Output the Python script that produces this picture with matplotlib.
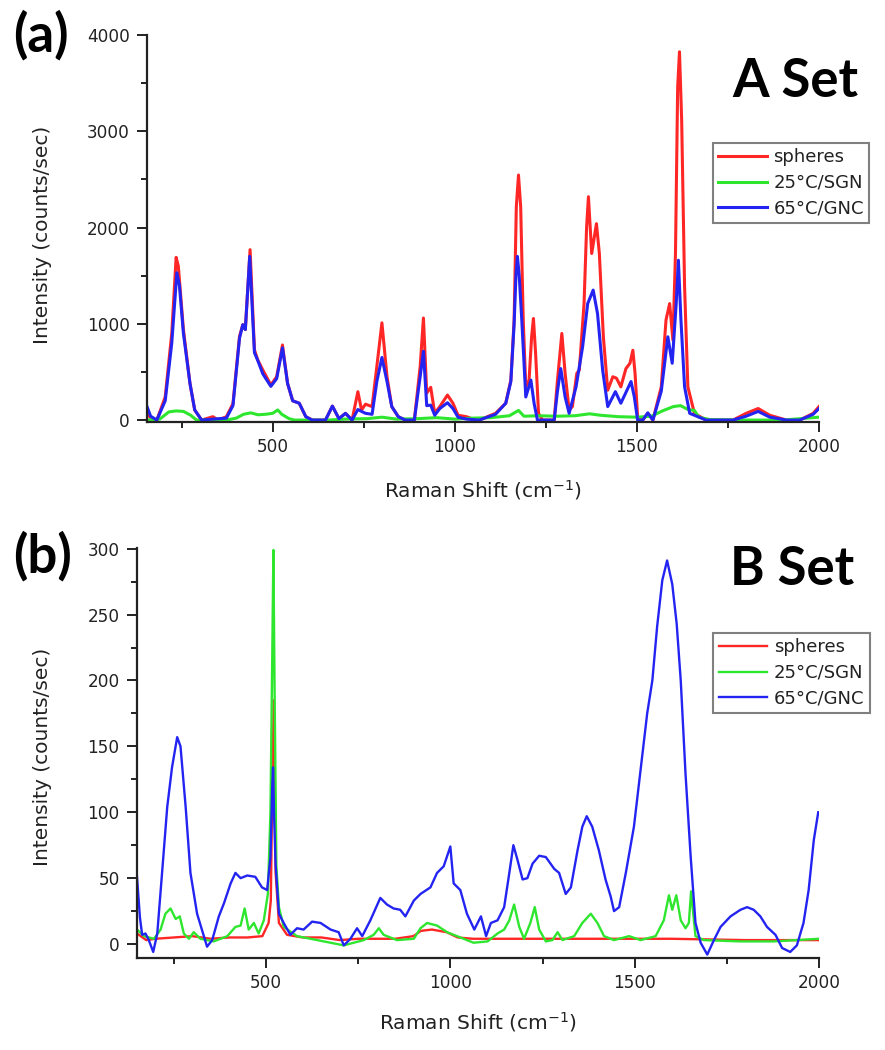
import matplotlib
matplotlib.use('Agg')
import matplotlib.pyplot as plt
import matplotlib.ticker as ticker

plt.rcParams['font.family'] = ['DejaVu Sans']
plt.rcParams['mathtext.fontset'] = 'dejavusans'

# ---- (a) A Set : Raman spectra ----
a_sph_x = [155, 170, 182, 205, 223, 235, 241, 255, 273, 286, 305, 336, 350, 373, 391, 409, 418, 425, 438, 450,
           459, 473, 495, 511, 527, 541, 555, 573, 591, 609, 645, 664, 682, 700, 718, 734, 744, 755, 773, 786,
           800, 814, 827, 845, 864, 889, 905, 914, 923, 934, 945, 959, 980, 995, 1009, 1032, 1054, 1067, 1112, 1140,
           1154, 1163, 1169, 1175, 1181, 1188, 1195, 1204, 1211, 1216, 1222, 1230, 1241, 1273, 1282, 1294, 1303, 1314, 1323, 1335,
           1342, 1355, 1362, 1367, 1376, 1389, 1397, 1408, 1420, 1434, 1444, 1456, 1470, 1481, 1489, 1495, 1502, 1516, 1530, 1544,
           1567, 1580, 1590, 1599, 1606, 1612, 1617, 1623, 1631, 1640, 1658, 1690, 1764, 1800, 1833, 1865, 1911, 1947, 1984, 2000]
a_sph_y = [60, 10, 0, 240, 900, 1690, 1600, 940, 380, 105, 0, 35, 0, 35, 170, 870, 990, 940, 1770, 730,
           625, 520, 365, 450, 780, 380, 200, 175, 35, 0, 0, 145, 15, 70, 0, 295, 105, 165, 140, 555,
           1010, 450, 140, 35, 0, 0, 555, 1060, 280, 340, 70, 140, 260, 175, 50, 35, 5, 0, 70, 175,
           415, 1040, 2215, 2545, 2215, 1040, 345, 415, 865, 1055, 690, 70, 0, 0, 415, 900, 485, 105, 140, 485,
           520, 1210, 2005, 2320, 1730, 2040, 1730, 865, 310, 450, 435, 345, 535, 590, 725, 485, 35, 0, 70, 0,
           345, 1040, 1210, 830, 1730, 3460, 3825, 3115, 1385, 345, 70, 0, 0, 70, 120, 50, 0, 0, 70, 140]

a_sgn_x = [155, 190, 215, 235, 255, 275, 291, 340, 380, 400, 420, 440, 460, 480, 500, 514, 525, 545, 560, 650,
           700, 760, 800, 840, 900, 950, 1000, 1050, 1100, 1150, 1175, 1190, 1230, 1280, 1330, 1370, 1400, 1450, 1500, 1540,
           1570, 1600, 1620, 1640, 1658, 1670, 1700, 1800, 1900, 2000]
a_sgn_y = [0, 10, 85, 95, 90, 50, 0, 0, 5, 20, 60, 75, 55, 60, 70, 105, 60, 15, 0, 0,
           10, 15, 30, 10, 15, 25, 10, 20, 25, 45, 100, 40, 45, 40, 45, 65, 50, 35, 30, 40,
           95, 140, 150, 110, 100, 30, 5, 0, 0, 30]

a_gnc_x = [155, 165, 182, 205, 223, 237, 244, 255, 273, 286, 305, 336, 373, 391, 409, 418, 425, 437, 450, 459,
           473, 495, 511, 527, 541, 555, 573, 591, 609, 645, 664, 682, 700, 718, 734, 744, 755, 773, 786, 800,
           814, 827, 845, 864, 889, 905, 914, 923, 934, 945, 959, 980, 995, 1009, 1032, 1067, 1112, 1140, 1154, 1163,
           1168, 1172, 1177, 1184, 1195, 1209, 1218, 1227, 1273, 1282, 1291, 1303, 1314, 1333, 1351, 1365, 1380, 1392, 1406, 1420,
           1441, 1456, 1484, 1493, 1502, 1516, 1530, 1544, 1567, 1585, 1597, 1608, 1614, 1621, 1631, 1645, 1690, 1764, 1800, 1833,
           1865, 1911, 1947, 1984, 2000]
a_gnc_y = [140, 40, 0, 200, 800, 1530, 1400, 900, 380, 105, 0, 10, 20, 150, 850, 990, 940, 1700, 700, 620,
           480, 350, 430, 750, 380, 200, 175, 35, 0, 0, 145, 15, 70, 0, 110, 90, 70, 60, 400, 650,
           400, 140, 35, 0, 0, 450, 715, 150, 155, 50, 120, 180, 120, 30, 10, 0, 60, 175, 400, 1000,
           1500, 1700, 1500, 1040, 240, 415, 170, 0, 0, 300, 535, 240, 70, 345, 760, 1210, 1350, 1105, 520, 140,
           295, 175, 400, 240, 0, 0, 75, 0, 300, 865, 590, 1210, 1660, 1040, 345, 70, 0, 0, 40, 90,
           30, 0, 0, 60, 120]

# ---- (b) B Set ----
b_sph_x = [150, 175, 200, 250, 300, 350, 400, 450, 490, 507, 513, 517, 521, 524, 526, 535, 557, 600, 650, 700,
           750, 800, 850, 900, 920, 950, 990, 1020, 1060, 1200, 1400, 1600, 1800, 2000]
b_sph_y = [8, 3, 4, 5, 6, 4, 5, 5, 6, 16, 33, 120, 185, 120, 54, 16, 7, 5, 5, 3,
           4, 4, 4, 6, 10, 11, 9, 5, 4, 4, 4, 4, 3, 3]

b_sgn_x = [150, 169, 196, 214, 227, 241, 255, 266, 277, 291, 304, 322, 358, 395, 417, 431, 442, 453, 467, 480,
           494, 505, 512, 517, 520, 523, 528, 535, 548, 584, 639, 711, 765, 792, 806, 819, 855, 901, 919, 937,
           964, 991, 1018, 1063, 1101, 1128, 1146, 1160, 1173, 1187, 1200, 1217, 1229, 1241, 1259, 1277, 1291, 1304, 1336, 1358,
           1381, 1399, 1417, 1444, 1485, 1516, 1557, 1579, 1593, 1602, 1613, 1625, 1638, 1647, 1653, 1665, 1688, 1787, 1877, 2000]
b_sgn_y = [11, 6, 4, 11, 23, 27, 19, 21, 8, 4, 9, 4, 2, 6, 13, 14, 27, 11, 16, 8,
           18, 38, 100, 220, 299, 200, 60, 28, 13, 6, 3, -1, 3, 7, 12, 7, 3, 4, 12, 16,
           14, 9, 6, 1, 2, 8, 11, 18, 30, 13, 4, 16, 28, 11, 2, 3, 9, 3, 6, 16,
           23, 16, 6, 3, 6, 3, 6, 18, 37, 26, 37, 18, 12, 16, 40, 6, 3, 2, 2, 4]

b_gnc_x = [150, 158, 164, 173, 182, 194, 205, 218, 232, 245, 259, 268, 282, 295, 313, 340, 354, 372, 386, 404,
           417, 431, 449, 471, 489, 503, 512, 517, 519, 522, 526, 535, 548, 566, 584, 602, 625, 648, 675, 697,
           711, 729, 747, 761, 783, 810, 828, 846, 864, 878, 901, 919, 946, 964, 982, 1000, 1009, 1027, 1045, 1065,
           1083, 1097, 1110, 1128, 1146, 1160, 1171, 1182, 1196, 1209, 1223, 1241, 1259, 1282, 1295, 1313, 1327, 1345, 1358, 1370,
           1385, 1403, 1421, 1435, 1444, 1458, 1476, 1498, 1516, 1534, 1548, 1561, 1575, 1588, 1602, 1614, 1625, 1638, 1652, 1665,
           1679, 1697, 1715, 1733, 1760, 1787, 1805, 1823, 1841, 1859, 1882, 1900, 1922, 1940, 1958, 1972, 1986, 1998]
b_gnc_y = [51, 20, 7, 8, 3, -6, 8, 54, 104, 134, 157, 150, 104, 54, 23, -2, 3, 21, 31, 46,
           54, 50, 52, 51, 43, 41, 66, 120, 134, 95, 60, 23, 16, 7, 12, 11, 17, 16, 11, 9,
           -1, 4, 12, 6, 18, 35, 30, 27, 26, 21, 33, 38, 43, 54, 59, 74, 46, 41, 23, 11,
           21, 6, 16, 18, 28, 54, 75, 64, 49, 50, 61, 67, 66, 57, 54, 38, 43, 71, 89, 97,
           89, 71, 49, 36, 25, 28, 54, 89, 132, 175, 200, 241, 276, 291, 273, 243, 200, 129, 66, 16,
           1, -8, 3, 13, 21, 26, 28, 26, 21, 13, 7, -3, -6, -1, 16, 41, 79, 100]

labels = ['spheres', '25°C/SGN', '65°C/GNC']
colors = ['#ff2626', '#2fe62f', '#2424f2']

fig = plt.figure(figsize=(8.85, 10.5), dpi=100)
ax_a = fig.add_axes([0.1661, 0.5981, 0.7593, 0.3686])
ax_b = fig.add_axes([0.1548, 0.0876, 0.7706, 0.3905])


def style_axes(ax, xlim, ylim, ymajor, yminor):
    ax.set_xlim(xlim)
    ax.set_ylim(ylim)
    ax.spines['top'].set_visible(False)
    ax.spines['right'].set_visible(False)
    for s in ['left', 'bottom']:
        ax.spines[s].set_linewidth(1.6)
        ax.spines[s].set_color('#222222')
    ax.xaxis.set_major_locator(ticker.MultipleLocator(500))
    ax.xaxis.set_minor_locator(ticker.MultipleLocator(250))
    ax.yaxis.set_major_locator(ticker.MultipleLocator(ymajor))
    ax.yaxis.set_minor_locator(ticker.MultipleLocator(yminor))
    ax.tick_params(which='major', length=7.5, width=1.4, color='#222222', labelsize=12.2, labelcolor='#222222')
    ax.tick_params(which='minor', length=4.5, width=1.4, color='#222222')
    ax.tick_params(axis='x', pad=4)
    ax.tick_params(axis='y', pad=5)
    ax.set_xlabel(r'Raman Shift (cm$^{-1}$)', fontsize=14.5, color='#222222')
    ax.set_ylabel('Intensity (counts/sec)', fontsize=14.5, color='#222222')


# Panel (a)
ax_a.plot(a_sph_x, a_sph_y, color=colors[0], linewidth=2.2, label=labels[0])
ax_a.plot(a_sgn_x, a_sgn_y, color=colors[1], linewidth=2.2, label=labels[1])
ax_a.plot(a_gnc_x, a_gnc_y, color=colors[2], linewidth=2.2, label=labels[2])
style_axes(ax_a, (155, 2000), (-20, 4000), 1000, 500)
ax_a.xaxis.set_label_coords(0.5, -0.145)
ax_a.yaxis.set_label_coords(-0.141, 0.483)

# Panel (b)
ax_b.plot(b_sph_x, b_sph_y, color=colors[0], linewidth=1.7, label=labels[0])
ax_b.plot(b_sgn_x, b_sgn_y, color=colors[1], linewidth=1.7, label=labels[1])
ax_b.plot(b_gnc_x, b_gnc_y, color=colors[2], linewidth=1.7, label=labels[2])
style_axes(ax_b, (150, 2000), (-10.6, 300.5), 50, 25)
ax_b.xaxis.set_label_coords(0.5, -0.127)
ax_b.yaxis.set_label_coords(-0.125, 0.49)

# legends hang over the right edge of the axes
for ax, anchor in [(ax_a, (0.842, 0.721)), (ax_b, (0.845, 0.793))]:
    leg = ax.legend(loc='upper left', bbox_to_anchor=anchor, borderaxespad=0, fontsize=13,
                    handlelength=2.7, handletextpad=0.35, labelspacing=0.42, borderpad=0.3,
                    fancybox=False, framealpha=1)
    leg.get_frame().set_edgecolor('#808080')
    leg.get_frame().set_linewidth(1.5)
    for t in leg.get_texts():
        t.set_color('#222222')

# panel tags and set names
fig.text(0.015, 0.9505, '(a)', fontsize=38, fontweight='bold', family='Lato', va='baseline')
fig.text(0.015, 0.4543, '(b)', fontsize=38, fontweight='bold', family='Lato', va='baseline')
fig.text(0.827, 0.9076, 'A Set', fontsize=38, fontweight='bold', family='Lato', va='baseline')
fig.text(0.825, 0.4429, 'B Set', fontsize=38, fontweight='bold', family='Lato', va='baseline')

plt.savefig('out.png', dpi=100)
